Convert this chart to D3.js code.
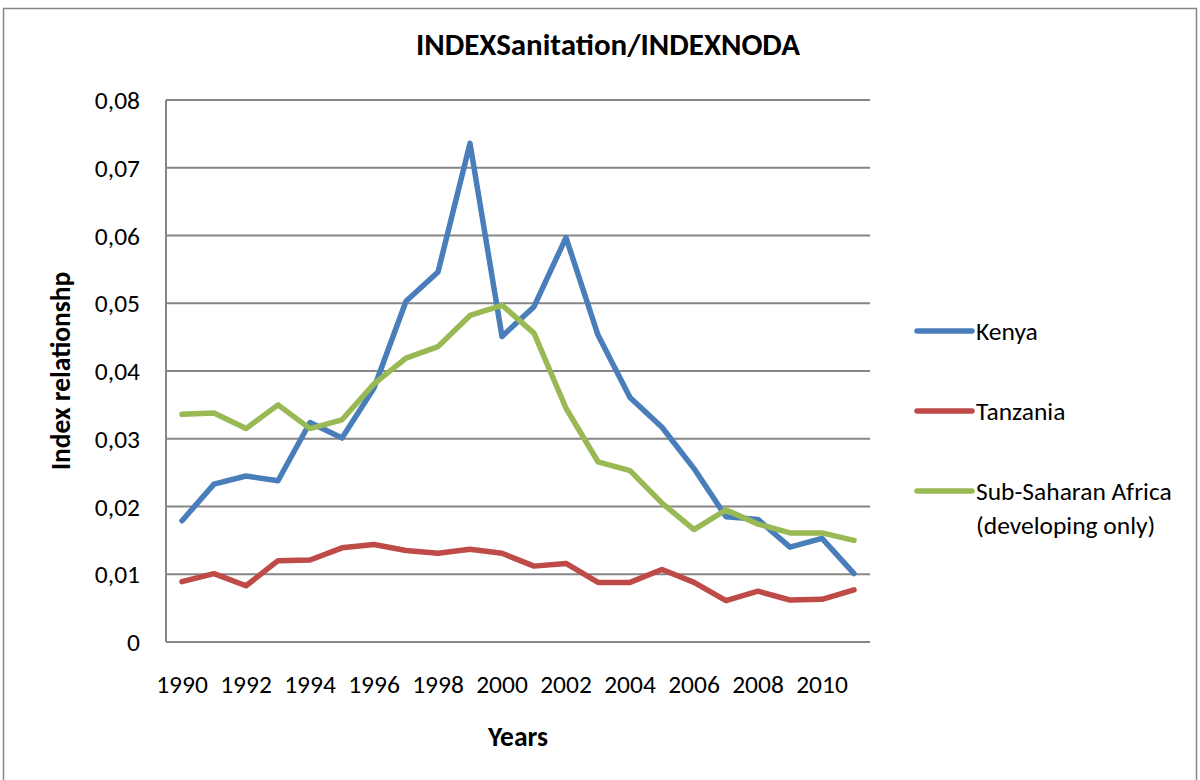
<!DOCTYPE html>
<html>
<head>
<meta charset="utf-8">
<script src="https://cdn.jsdelivr.net/npm/d3@7"></script>
<style>
  body { margin: 0; background: #fff; }
  svg { display: block; font-family: Carlito, Calibri, Lato, sans-serif; }
</style>
</head>
<body>
<div id="chart"></div>
<script>
const years = [1990, 1991, 1992, 1993, 1994, 1995, 1996, 1997, 1998, 1999, 2000,
               2001, 2002, 2003, 2004, 2005, 2006, 2007, 2008, 2009, 2010, 2011];
const kenya = [0.0179, 0.0233, 0.0245, 0.0238, 0.0324, 0.0301, 0.0375, 0.0503, 0.0546, 0.0736, 0.0451,
               0.0495, 0.0597, 0.0453, 0.0361, 0.0317, 0.0256, 0.0185, 0.0181, 0.0140, 0.0153, 0.0101];
const tanzania = [0.0089, 0.0101, 0.0083, 0.0120, 0.0121, 0.0139, 0.0144, 0.0135, 0.0131, 0.0137, 0.0131,
                  0.0112, 0.0116, 0.0088, 0.0088, 0.0107, 0.0088, 0.0061, 0.0075, 0.0062, 0.0063, 0.0077];
const ssa = [0.0336, 0.0338, 0.0315, 0.0350, 0.0315, 0.0328, 0.0381, 0.0419, 0.0436, 0.0482, 0.0497,
             0.0456, 0.0345, 0.0266, 0.0253, 0.0205, 0.0166, 0.0195, 0.0174, 0.0161, 0.0161, 0.0150];
const yTicks = [0, 0.01, 0.02, 0.03, 0.04, 0.05, 0.06, 0.07, 0.08];
const xLabels = [1990, 1992, 1994, 1996, 1998, 2000, 2002, 2004, 2006, 2008, 2010];

const series = [
  { name: ["Kenya"], values: kenya, color: "#4a7ebb" },
  { name: ["Tanzania"], values: tanzania, color: "#be4b48" },
  { name: ["Sub-Saharan Africa", "(developing only)"], values: ssa, color: "#98b954" }
];

const W = 1200, H = 780;
const plot = { left: 166, right: 870, top: 100, bottom: 642 };
const grey = "#868686";
const fs = "25.5px", fsBold = "27.5px";

const svg = d3.select("#chart").append("svg")
  .attr("width", W).attr("height", H);

svg.append("rect").attr("width", W).attr("height", H).attr("fill", "#fff");
// chart frame (runs off the bottom of the picture)
svg.append("rect")
  .attr("x", 3.5).attr("y", 8.5).attr("width", 1193).attr("height", 800)
  .attr("fill", "none").attr("stroke", grey).attr("stroke-width", 1.5);

const x = d3.scaleBand().domain(years).range([plot.left, plot.right]);
const y = d3.scaleLinear().domain([0, 0.08]).range([plot.bottom, plot.top]);
const cx = d => x(d) + x.bandwidth() / 2;

// gridlines
svg.append("g").selectAll("line")
  .data(yTicks.slice(1))
  .enter().append("line")
  .attr("x1", plot.left).attr("x2", plot.right)
  .attr("y1", d => y(d)).attr("y2", d => y(d))
  .attr("stroke", grey).attr("stroke-width", 2);

// axis lines
svg.append("line")
  .attr("x1", plot.left).attr("x2", plot.left)
  .attr("y1", plot.top).attr("y2", plot.bottom)
  .attr("stroke", grey).attr("stroke-width", 2);
svg.append("line")
  .attr("x1", plot.left).attr("x2", plot.right)
  .attr("y1", plot.bottom).attr("y2", plot.bottom)
  .attr("stroke", grey).attr("stroke-width", 2);

// y tick labels
const fmt = v => v === 0 ? "0" : d3.format(".2f")(v).replace(".", ",");
svg.append("g").selectAll("text")
  .data(yTicks)
  .enter().append("text")
  .attr("x", 140).attr("y", d => y(d))
  .attr("dy", "0.36em")
  .attr("text-anchor", "end")
  .style("font-size", fs)
  .text(fmt);

// x tick labels
svg.append("g").selectAll("text")
  .data(xLabels)
  .enter().append("text")
  .attr("x", d => cx(d)).attr("y", 693)
  .attr("text-anchor", "middle")
  .style("font-size", fs)
  .text(d => d);

// lines
const line = d3.line()
  .x((d, i) => cx(years[i]))
  .y(d => y(d));

svg.append("g").selectAll("path")
  .data(series)
  .enter().append("path")
  .attr("d", d => line(d.values))
  .attr("fill", "none")
  .attr("stroke", d => d.color)
  .attr("stroke-width", 5.5)
  .attr("stroke-linejoin", "round")
  .attr("stroke-linecap", "round");

// titles
svg.append("text")
  .attr("x", 608).attr("y", 55)
  .attr("text-anchor", "middle")
  .style("font-size", "31px").style("font-weight", "bold")
  .text("INDEXSanitation/INDEXNODA");

svg.append("text")
  .attr("x", (plot.left + plot.right) / 2).attr("y", 746)
  .attr("text-anchor", "middle")
  .style("font-size", fsBold).style("font-weight", "bold")
  .text("Years");

svg.append("text")
  .attr("transform", `translate(70,${(plot.top + plot.bottom) / 2}) rotate(-90)`)
  .attr("text-anchor", "middle")
  .style("font-size", fsBold).style("font-weight", "bold")
  .text("Index relationshp");

// legend
const legendY = [331, 411, 491];
const legend = svg.append("g").selectAll("g")
  .data(series)
  .enter().append("g")
  .attr("transform", (d, i) => `translate(917,${legendY[i]})`);

legend.append("line")
  .attr("x1", 0).attr("x2", 55)
  .attr("stroke", d => d.color)
  .attr("stroke-width", 5.5)
  .attr("stroke-linecap", "round");

legend.append("text")
  .attr("x", 59)
  .style("font-size", fs)
  .selectAll("tspan")
  .data(d => d.name)
  .enter().append("tspan")
  .attr("x", 59)
  .attr("y", (d, i) => i * 34)
  .attr("dy", "0.36em")
  .text(d => d);
</script>
</body>
</html>
